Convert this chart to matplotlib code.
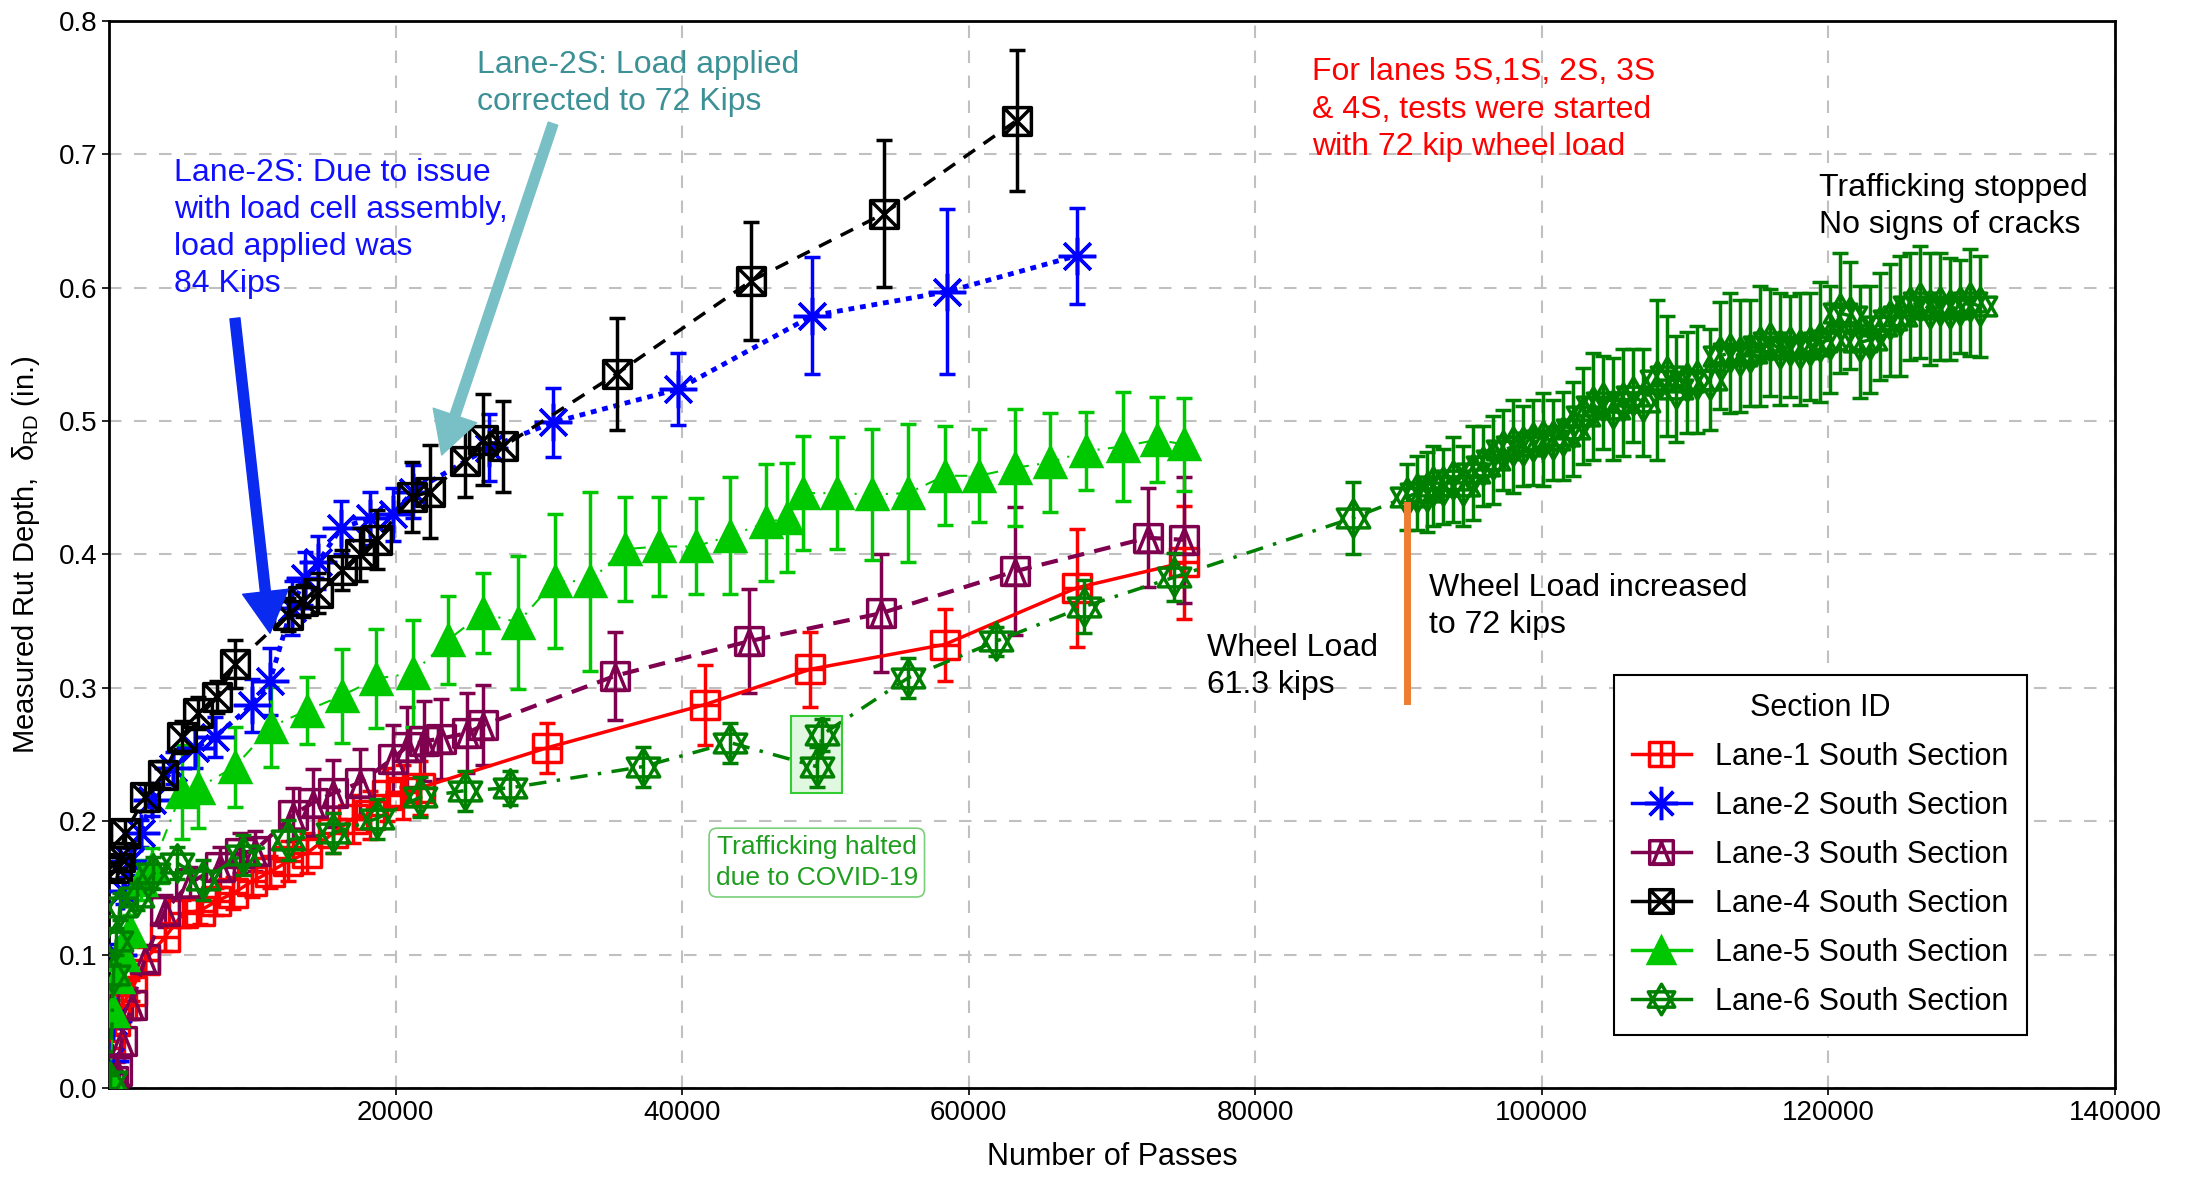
import numpy as np
import matplotlib
matplotlib.use('Agg')
import matplotlib.pyplot as plt
from matplotlib.path import Path
from matplotlib.lines import Line2D
from matplotlib.patches import Rectangle

plt.rcParams['font.family'] = ['Liberation Sans', 'DejaVu Sans']
plt.rcParams['mathtext.fontset'] = 'custom'
plt.rcParams['mathtext.rm'] = 'Liberation Sans'
plt.rcParams['mathtext.it'] = 'Liberation Sans:italic'

# ---- data ----
x1 = [100, 420, 900, 1580, 2510, 3910, 5180, 6350, 7500, 8670, 10000, 11240, 12500, 13800,
      15640, 17030, 18200, 19380, 20500, 21700, 30550, 41600, 48960, 58320, 67540, 75030]
y1 = [0.03, 0.05, 0.062, 0.073, 0.096, 0.113, 0.131, 0.133, 0.14, 0.146, 0.155, 0.162, 0.17, 0.176,
      0.191, 0.202, 0.205, 0.22, 0.222, 0.225, 0.255, 0.2875, 0.314, 0.3325, 0.375, 0.394]
e1 = [0.005, 0.005, 0.008, 0.008, 0.01, 0.01, 0.01, 0.01, 0.01, 0.012, 0.012, 0.012, 0.015, 0.015,
      0.015, 0.018, 0.018, 0.02, 0.02, 0.02, 0.019, 0.03, 0.028, 0.027, 0.044, 0.042]

x2 = [100, 300, 600, 1000, 1500, 2200, 3000, 4500, 6000, 7370, 9950, 11230, 12750, 13670, 14590,
      16200, 18200, 19800, 21200, 26500, 30980, 39720, 49090, 58460, 67540]
y2 = [0.02, 0.05, 0.1, 0.148, 0.17, 0.191, 0.216, 0.24, 0.255, 0.263, 0.287, 0.305, 0.36, 0.382, 0.394,
      0.42, 0.427, 0.43, 0.447, 0.48, 0.499, 0.524, 0.579, 0.597, 0.624]
e2 = [0.005, 0.005, 0.008, 0.01, 0.01, 0.01, 0.012, 0.012, 0.015, 0.015, 0.02, 0.025, 0.02, 0.02, 0.02,
      0.02, 0.02, 0.02, 0.02, 0.025, 0.026, 0.027, 0.044, 0.062, 0.036]

x3 = [300, 570, 880, 1580, 2510, 3910, 5650, 7750, 9140, 10190, 12860, 14250, 15640, 17520, 19820,
      20780, 22000, 23200, 24960, 26120, 35320, 44680, 53900, 63260, 72490, 75030]
y3 = [0.005, 0.0125, 0.035, 0.062, 0.097, 0.133, 0.154, 0.166, 0.176, 0.178, 0.205, 0.214, 0.221, 0.229, 0.247,
      0.256, 0.26, 0.262, 0.266, 0.272, 0.309, 0.335, 0.356, 0.3875, 0.4125, 0.411]
e3 = [0.005, 0.008, 0.01, 0.01, 0.01, 0.012, 0.012, 0.015, 0.015, 0.015, 0.02, 0.025, 0.025, 0.025, 0.025,
      0.03, 0.03, 0.03, 0.03, 0.03, 0.033, 0.039, 0.044, 0.048, 0.037, 0.047]

x4 = [550, 770, 1120, 2510, 3770, 5070, 6230, 7510, 8790, 12510, 13560, 14610, 16240, 17520, 18680,
      21120, 22400, 24850, 26120, 27520, 35430, 44800, 54070, 63340]
y4 = [0.165, 0.173, 0.191, 0.218, 0.235, 0.263, 0.281, 0.293, 0.318, 0.355, 0.365, 0.371, 0.388, 0.40, 0.411,
      0.443, 0.447, 0.47, 0.486, 0.481, 0.5355, 0.605, 0.6555, 0.7253]
e4 = [0.008, 0.008, 0.01, 0.01, 0.01, 0.012, 0.012, 0.012, 0.018, 0.012, 0.012, 0.015, 0.015, 0.02, 0.022,
      0.026, 0.035, 0.027, 0.034, 0.034, 0.042, 0.044, 0.055, 0.053]

x5 = [100, 300, 600, 1000, 1500, 2200, 3000, 5070, 6230, 8790, 11340, 13790, 16230, 18670, 21220,
      23670, 26100, 28550, 31120, 33560, 35990, 38400, 40940, 43340, 45880, 47350, 48420, 50830,
      53240, 55780, 58320, 60720, 63260, 65670, 68210, 70750, 73160, 75030]
y5 = [0.005, 0.058, 0.083, 0.1, 0.118, 0.156, 0.165, 0.222, 0.225, 0.241, 0.271, 0.283, 0.294, 0.307, 0.311,
      0.336, 0.356, 0.349, 0.38, 0.38, 0.404, 0.406, 0.406, 0.414, 0.424, 0.4275, 0.446, 0.446,
      0.445, 0.446, 0.459, 0.459, 0.465, 0.469, 0.4775, 0.481, 0.486, 0.4825]
e5 = [0.005, 0.008, 0.01, 0.01, 0.012, 0.015, 0.015, 0.035, 0.03, 0.03, 0.03, 0.025, 0.035, 0.037, 0.04,
      0.033, 0.03, 0.05, 0.05, 0.067, 0.039, 0.037, 0.036, 0.044, 0.044, 0.041, 0.0425, 0.042,
      0.049, 0.052, 0.037, 0.035, 0.044, 0.037, 0.029, 0.041, 0.032, 0.035]

# lane 6: before and after the load increase
x6a = [100, 300, 500, 770, 1930, 3090, 4720, 6560, 9350, 12500, 15640, 18680, 21700, 24850, 27990,
       37280, 43340, 49390, 49780, 55780, 61930, 68080, 74360, 86820]
y6a = [0.005, 0.085, 0.11, 0.136, 0.1435, 0.161, 0.169, 0.156, 0.175, 0.186, 0.191, 0.202, 0.218, 0.223, 0.225,
       0.241, 0.259, 0.241, 0.265, 0.3075, 0.335, 0.361, 0.383, 0.4274]
e6a = [0.005, 0.008, 0.01, 0.01, 0.01, 0.012, 0.012, 0.015, 0.015, 0.015, 0.015, 0.015, 0.015, 0.015, 0.013,
       0.015, 0.015, 0.015, 0.012, 0.015, 0.011, 0.02, 0.018, 0.027]
x6b = [90560, 91260, 91960, 92420, 93120, 93820, 94520, 95210, 95910, 96610, 97300, 98000, 98700, 99400,
       100100, 100800, 101490, 102190, 102890, 103590, 104290, 104980, 105680, 106380, 107080, 108010,
       108710, 109400, 110100, 110800, 111730, 112430, 113130, 113830, 114520, 115220, 115920, 116620,
       117310, 118010, 118710, 119410, 120100, 120800, 121500, 122200, 122900, 123600, 124290, 124990,
       125690, 126380, 127080, 127780, 128480, 129170, 129870, 130570]
y6b = [0.443, 0.446, 0.447, 0.451, 0.451, 0.456, 0.451, 0.461, 0.466, 0.471, 0.478, 0.481, 0.481, 0.484,
       0.486, 0.486, 0.489, 0.494, 0.504, 0.511, 0.514, 0.509, 0.514, 0.519, 0.514, 0.531,
       0.534, 0.524, 0.529, 0.531, 0.531, 0.549, 0.551, 0.549, 0.551, 0.556, 0.559, 0.554,
       0.556, 0.554, 0.556, 0.559, 0.561, 0.581, 0.579, 0.559, 0.561, 0.571, 0.576, 0.579,
       0.586, 0.589, 0.584, 0.586, 0.584, 0.586, 0.589, 0.586]
e6b = [0.025, 0.028, 0.03, 0.03, 0.028, 0.032, 0.03, 0.035, 0.03, 0.033, 0.03, 0.035, 0.03, 0.032,
       0.035, 0.03, 0.033, 0.035, 0.036, 0.04, 0.035, 0.038, 0.04, 0.035, 0.04, 0.06,
       0.045, 0.04, 0.038, 0.04, 0.038, 0.04, 0.045, 0.042, 0.04, 0.045, 0.04, 0.042,
       0.038, 0.042, 0.04, 0.045, 0.04, 0.045, 0.04, 0.042, 0.04, 0.04, 0.042, 0.045,
       0.04, 0.042, 0.042, 0.04, 0.038, 0.035, 0.04, 0.038]

labels = ['Lane-1 South Section', 'Lane-2 South Section', 'Lane-3 South Section',
          'Lane-4 South Section', 'Lane-5 South Section', 'Lane-6 South Section']


# ---- custom markers ----
M, L, C = Path.MOVETO, Path.LINETO, Path.CLOSEPOLY
sq_v = [(-1, -1), (1, -1), (1, 1), (-1, 1), (-1, -1)]
sq_c = [M, L, L, L, C]
sq_plus = Path(sq_v + [(0, -1), (0, 1), (-1, 0), (1, 0)], sq_c + [M, L, M, L])
sq_x = Path(sq_v + [(-1, -1), (1, 1), (-1, 1), (1, -1)], sq_c + [M, L, M, L])
sq_tri = Path(sq_v + [(0, 0.85), (-0.75, -1), (0.75, -1), (0, 0.85)], sq_c + [M, L, L, C])
hexa = Path([(0, 1), (-0.866, -0.5), (0.866, -0.5), (0, 1),
             (0, -1), (-0.866, 0.5), (0.866, 0.5), (0, -1)],
            [M, L, L, C, M, L, L, C])
aster = (8, 2, 0)

c1, c2, c3, c4, c5, c6 = '#FF0000', '#0000FF', '#800050', '#000000', '#00C800', '#008000'

fig = plt.figure(figsize=(21.93, 11.78), dpi=100)
ax = fig.add_axes([0.0497, 0.0764, 0.9147, 0.9058])

common = dict(elinewidth=2.5, capsize=5.5, capthick=2.5, mew=2.5)

ax.errorbar(x1, y1, yerr=e1, color=c1, ls='-', lw=2.5, marker=sq_plus, ms=20, mfc='none',
            mec=c1, ecolor=c1, zorder=3, **common)
ax.errorbar(x2, y2, yerr=e2, color=c2, ls=(0, (1.2, 1.2)), lw=3.5, marker=aster, ms=27,
            mec=c2, ecolor=c2, zorder=3, **common)
ax.errorbar(x3, y3, yerr=e3, color=c3, ls=(0, (4, 2.5)), lw=3, marker=sq_tri, ms=20, mfc='none',
            mec=c3, ecolor=c3, zorder=3, **common)
ax.errorbar(x4, y4, yerr=e4, color=c4, ls=(0, (4, 3)), lw=2.5, marker=sq_x, ms=20, mfc='none',
            mec=c4, ecolor=c4, zorder=4, **common)
ax.errorbar(x5, y5, yerr=e5, color=c5, ls=(0, (6, 4, 1, 4)), lw=1.5, marker='^', ms=22,
            mfc=c5, mec=c5, ecolor=c5, zorder=3, **common)
ax.errorbar(x6a + x6b, y6a + y6b, yerr=e6a + e6b, color=c6, ls=(0, (5, 3, 1, 3)), lw=2.5,
            marker=hexa, ms=27, mfc='none', mec=c6, ecolor=c6, zorder=5, **common)

# COVID highlight
ax.add_patch(Rectangle((47630, 0.221), 3510, 0.058, facecolor='#33CC33', alpha=0.15,
                       edgecolor='none', zorder=2))
ax.add_patch(Rectangle((47630, 0.221), 3510, 0.058, facecolor='none',
                       edgecolor='#33CC33', lw=1.5, zorder=6))

# load increase marker
ax.plot([90570, 90570], [0.29, 0.437], color='#ED7D31', lw=5, zorder=6)

# arrows
ax.annotate('', xy=(11240, 0.341), xytext=(8790, 0.577),
            arrowprops=dict(arrowstyle='simple,head_length=0.5,head_width=0.55,tail_width=0.12',
                            mutation_scale=60, color='#0A2AF0', shrinkA=0, shrinkB=0), zorder=7)
ax.annotate('', xy=(23220, 0.4746), xytext=(30990, 0.723),
            arrowprops=dict(arrowstyle='simple,head_length=0.5,head_width=0.55,tail_width=0.12',
                            mutation_scale=60, color='#78C0C6', shrinkA=0, shrinkB=0), zorder=7)

# annotations
fs = 23
lsp = 1.3
ax.text(25680, 0.778, 'Lane-2S: Load applied\ncorrected to 72 Kips', color='#3C9196',
        fontsize=fs, va='top', ha='left', linespacing=lsp)
ax.text(4520, 0.697, 'Lane-2S: Due to issue\nwith load cell assembly,\nload applied was\n84 Kips',
        color='#1010FF', fontsize=fs, va='top', ha='left', linespacing=lsp)
ax.text(83940, 0.773, 'For lanes 5S,1S, 2S, 3S\n& 4S, tests were started\nwith 72 kip wheel load',
        color='#FF0000', fontsize=fs, va='top', ha='left', linespacing=1.33)
ax.text(119360, 0.686, 'Trafficking stopped\nNo signs of cracks', color='black',
        fontsize=fs, va='top', ha='left', linespacing=lsp)
ax.text(92130, 0.386, 'Wheel Load increased\nto 72 kips', color='black',
        fontsize=fs, va='top', ha='left', linespacing=lsp)
ax.text(76620, 0.341, 'Wheel Load\n61.3 kips', color='black',
        fontsize=fs, va='top', ha='left', linespacing=lsp)
ax.text(49400, 0.169, 'Trafficking halted\ndue to COVID-19', color='#1E9E1E', fontsize=19,
        ha='center', va='center', linespacing=1.4,
        bbox=dict(boxstyle='round,pad=0.25,rounding_size=0.3', facecolor='white',
                  edgecolor='#7ACF7A', lw=1.2))

# axes
ax.set_xlim(0, 140000)
ax.set_ylim(0, 0.8)
ax.set_xticks(np.arange(20000, 140001, 20000))
ax.set_xticklabels([str(v) for v in range(20000, 140001, 20000)])
ax.set_yticks(np.arange(0, 0.81, 0.1))
ax.set_yticklabels(['%.1f' % v for v in np.arange(0, 0.81, 0.1)])
ax.tick_params(labelsize=20, length=5, width=1.2)
ax.grid(True, color='#C0C0C0', ls=(0, (6, 6)), lw=1.5)
ax.set_axisbelow(True)
for s in ax.spines.values():
    s.set_linewidth(2)
ax.set_xlabel('Number of Passes', fontsize=22, labelpad=12)
ax.set_ylabel('Measured Rut Depth,  δ$_{\\mathrm{RD}}$ (in.)', fontsize=21, labelpad=12)

# legend with proxies
handles = [
    Line2D([], [], color=c1, lw=2.5, marker=sq_plus, ms=17, mfc='none', mec=c1, mew=2.5),
    Line2D([], [], color=c2, lw=2.5, marker=aster, ms=24, mec=c2, mew=2.5),
    Line2D([], [], color=c3, lw=2.5, marker=sq_tri, ms=17, mfc='none', mec=c3, mew=2.5),
    Line2D([], [], color=c4, lw=2.5, marker=sq_x, ms=17, mfc='none', mec=c4, mew=2.5),
    Line2D([], [], color=c5, lw=2.5, marker='^', ms=19, mfc=c5, mec=c5, mew=2.5),
    Line2D([], [], color=c6, lw=2.5, marker=hexa, ms=22, mfc='none', mec=c6, mew=2.5),
]
leg = ax.legend(handles, labels, title='Section ID', loc='lower right',
                bbox_to_anchor=(0.956, 0.0498), borderaxespad=0, fontsize=22, title_fontsize=22,
                fancybox=False, framealpha=1, edgecolor='black', handlelength=1.9,
                handletextpad=0.8, labelspacing=0.62, borderpad=0.6)
leg.get_frame().set_linewidth(1.5)
leg.set_zorder(10)

fig.savefig('out.png', dpi=100)
